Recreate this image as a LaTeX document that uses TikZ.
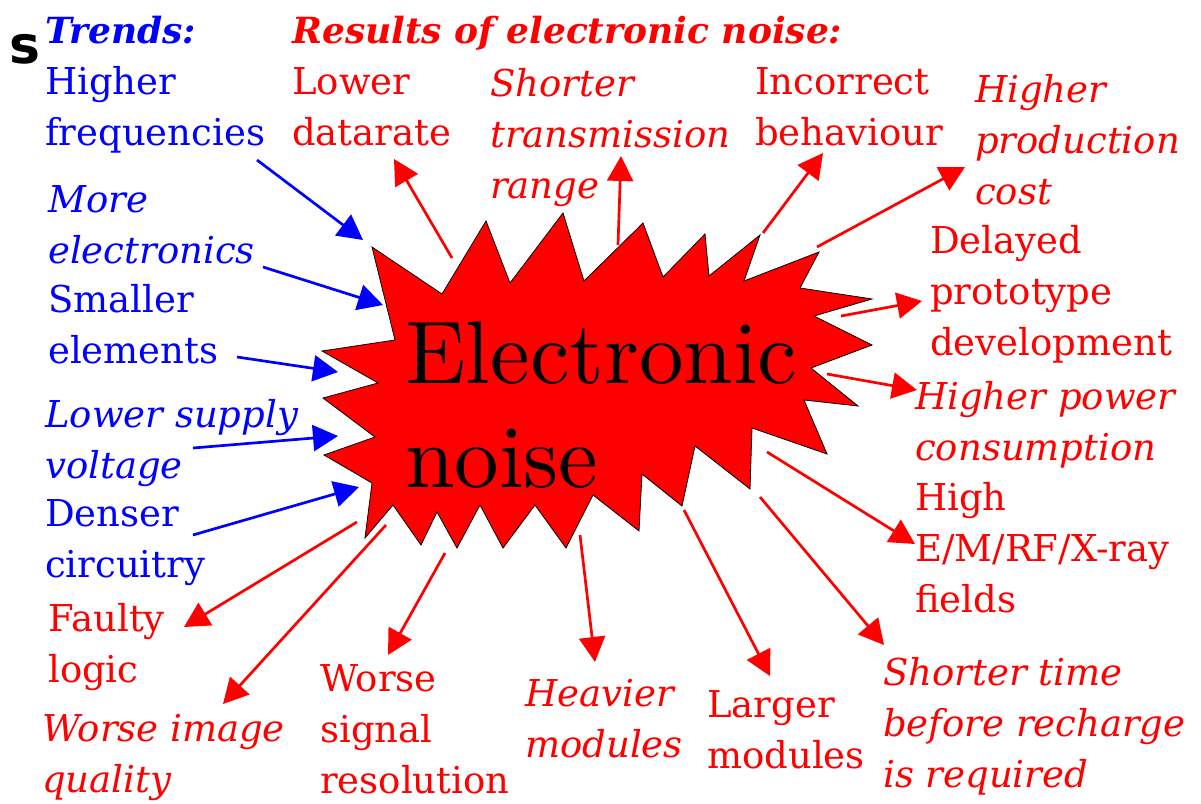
\documentclass[tikz,border=0pt]{standalone}
\usepackage{fontspec}
\newfontfamily\labelfont{DejaVu Serif}
\newfontfamily\letterfont{DejaVu Sans}
\newfontfamily\bigfont{lmroman10-regular}[Extension=.otf]
\usetikzlibrary{arrows.meta}
\newcommand{\labelsize}{\fontsize{37}{51}\selectfont}

\begin{document}
\begin{tikzpicture}[x=1pt,y=-1pt,
    inarrow/.style={draw=blue,line width=2.7pt,-{Triangle[length=25pt,width=26pt]}},
    outarrow/.style={draw=red,line width=2.7pt,-{Triangle[length=25pt,width=26pt]}},
    lab/.style={anchor=base west,inner sep=0pt,align=left,font=\labelfont\labelsize},
    itlab/.style={lab,font=\labelfont\labelsize\itshape},
    headlab/.style={lab,font=\labelfont\fontsize{36}{51}\selectfont\bfseries\itshape}]
    
    \useasboundingbox (0,0) rectangle (1201,803);
    
    % the burst in the middle
    \draw[fill=red,draw=black,line width=0.8pt]
      (372,247) -- (442,294) -- (486,221) -- (510,283) -- (563,213) -- (584,281)
      -- (643,223) -- (663,277) -- (705,234) -- (709,276) -- (760,235) -- (744,281)
      -- (819,252) -- (800,288) -- (872,299) -- (814,316) -- (872,345) -- (811,368)
      -- (858,406) -- (804,400) -- (827,454) -- (752,428) -- (750,489) -- (695,446)
      -- (682,506) -- (642,474) -- (639,531) -- (593,495) -- (566,548) -- (535,505)
      -- (503,548) -- (480,505) -- (457,548) -- (437,512) -- (421,545) -- (393,505)
      -- (365,538) -- (372,483) -- (324,455) -- (375,437) -- (323,398) -- (378,383)
      -- (322,351) -- (395,340) -- cycle;
    % base anchor sits on the last line
    \node[anchor=base west,inner sep=0pt,align=left,font=\bigfont\fontsize{89}{104}\selectfont]
      (noise) at (405,487) {Electronic\\noise};
    
    \node[anchor=base west,inner sep=0pt,font=\letterfont\fontsize{52}{60}\selectfont\bfseries]
      (letter) at (9,63) {s};
    
    % trends (blue, left)
    \node[headlab,text=blue] (trends) at (45,43) {Trends:};
    \node[lab,text=blue] (freq) at (45,145) {Higher\\frequencies};
    \node[itlab,text=blue] (electr) at (48,263) {More\\electronics};
    \node[lab,text=blue] (smaller) at (48,363) {Smaller\\elements};
    \node[itlab,text=blue] (supply) at (45,478) {Lower supply\\voltage};
    \node[lab,text=blue] (denser) at (45,577) {Denser\\circuitry};
    
    % results (red, all around)
    \node[headlab,text=red] (results) at (292,43) {Results of electronic noise:};
    \node[lab,text=red] (datarate) at (292,145) {Lower\\datarate};
    \node[itlab,text=red] (range) at (490,198) {Shorter\\transmission\\range};
    \node[lab,text=red] (behav) at (755,145) {Incorrect\\behaviour};
    \node[itlab,text=red] (cost) at (975,204) {Higher\\production\\cost};
    \node[lab,text=red] (proto) at (930,355) {Delayed\\prototype\\development};
    \node[itlab,text=red] (power) at (915,460) {Higher power\\consumption};
    \node[lab,text=red] (fields) at (915,612) {High\\E/M/RF/X-ray\\fields};
    \node[itlab,text=red] (recharge) at (883,787) {Shorter time\\before recharge\\is required};
    \node[lab,text=red] (larger) at (707,768) {Larger\\modules};
    \node[itlab,text=red] (heavier) at (525,757) {Heavier\\modules};
    \node[lab,text=red] (signal) at (320,793) {Worse\\signal\\resolution};
    \node[lab,text=red] (faulty) at (48,682) {Faulty\\logic};
    \node[itlab,text=red] (image) at (42,792) {Worse image\\quality};
    
    % arrow ends
    \coordinate (freq-a) at (257,160);     \coordinate (freq-b) at (363,240);
    \coordinate (electr-a) at (263,267);   \coordinate (electr-b) at (383,305);
    \coordinate (smaller-a) at (237,357);  \coordinate (smaller-b) at (338,372);
    \coordinate (supply-a) at (193,448);   \coordinate (supply-b) at (338,436);
    \coordinate (denser-a) at (193,535);   \coordinate (denser-b) at (359,487);
    
    \coordinate (datarate-a) at (452,258); \coordinate (datarate-b) at (394,159);
    \coordinate (range-a) at (618,245);    \coordinate (range-b) at (621,156);
    \coordinate (behav-a) at (763,233);    \coordinate (behav-b) at (823,153);
    \coordinate (cost-a) at (817,247);     \coordinate (cost-b) at (965,167);
    \coordinate (proto-a) at (841,316);    \coordinate (proto-b) at (922,301);
    \coordinate (power-a) at (827,374);    \coordinate (power-b) at (917,390);
    \coordinate (fields-a) at (767,452);   \coordinate (fields-b) at (915,544);
    \coordinate (recharge-a) at (760,497); \coordinate (recharge-b) at (884,645);
    \coordinate (larger-a) at (684,510);   \coordinate (larger-b) at (770,676);
    \coordinate (heavier-a) at (580,535);  \coordinate (heavier-b) at (595,662);
    \coordinate (signal-a) at (445,553);   \coordinate (signal-b) at (388,655);
    \coordinate (faulty-a) at (357,522);   \coordinate (faulty-b) at (184,627);
    \coordinate (image-a) at (386,525);    \coordinate (image-b) at (223,704);
    
    % causes point into the burst
    \draw[inarrow] (freq-a) -- (freq-b);
    \draw[inarrow] (electr-a) -- (electr-b);
    \draw[inarrow] (smaller-a) -- (smaller-b);
    \draw[inarrow] (supply-a) -- (supply-b);
    \draw[inarrow] (denser-a) -- (denser-b);
    
    % results point away from it
    \draw[outarrow] (datarate-a) -- (datarate-b);
    \draw[outarrow] (range-a) -- (range-b);
    \draw[outarrow] (behav-a) -- (behav-b);
    \draw[outarrow] (cost-a) -- (cost-b);
    \draw[outarrow] (proto-a) -- (proto-b);
    \draw[outarrow] (power-a) -- (power-b);
    \draw[outarrow] (fields-a) -- (fields-b);
    \draw[outarrow] (recharge-a) -- (recharge-b);
    \draw[outarrow] (larger-a) -- (larger-b);
    \draw[outarrow] (heavier-a) -- (heavier-b);
    \draw[outarrow] (signal-a) -- (signal-b);
    \draw[outarrow] (faulty-a) -- (faulty-b);
    \draw[outarrow] (image-a) -- (image-b);
    
\end{tikzpicture}
\end{document}
